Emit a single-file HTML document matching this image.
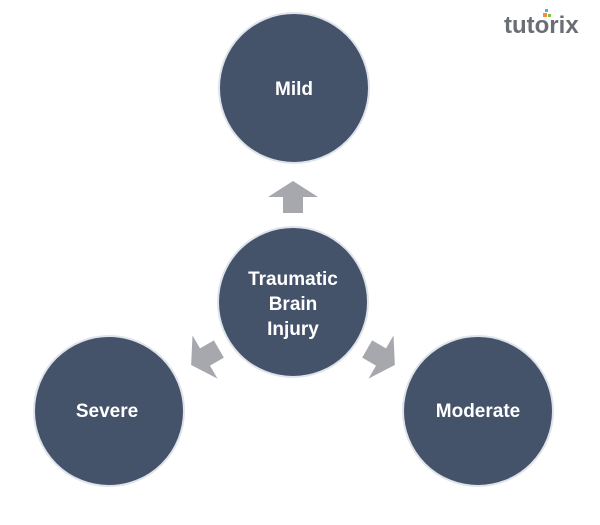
<!DOCTYPE html>
<html><head><style>
body{margin:0;width:600px;height:520px;background:#fff;overflow:hidden;font-family:"Liberation Sans",sans-serif}
</style></head><body>
<svg width="600" height="520" xmlns="http://www.w3.org/2000/svg">
<defs>
<g id="arr"><polygon points="-10,16 10,16 10,0 25,0 0,-16 -25,0 -10,0" fill="#a6a8ae"/></g>
</defs>
<g fill="#44526a" stroke="#dfe3ea" stroke-width="2">
<circle cx="294" cy="88" r="75"/>
<circle cx="293" cy="302" r="75"/>
<circle cx="109" cy="411" r="75"/>
<circle cx="478" cy="411" r="75"/>
</g>
<use href="#arr" transform="translate(293,197)"/>
<use href="#arr" transform="translate(205,357) rotate(-120)"/>
<use href="#arr" transform="translate(381,357) rotate(120)"/>
<g fill="#fff" font-weight="bold" font-size="19" text-anchor="middle">
<text x="294" y="95">Mild</text>
<text x="293" y="285">Traumatic</text>
<text x="293" y="310">Brain</text>
<text x="293" y="335">Injury</text>
<text x="107" y="417">Severe</text>
<text x="478" y="417">Moderate</text>
</g>
<text x="504" y="33" font-size="24" font-weight="bold" fill="#6b6e74">tutorix</text>
<rect x="545" y="9" width="3" height="3" fill="#4ab0e0"/>
<rect x="543" y="13" width="4" height="4" fill="#f09040"/>
<rect x="548" y="14" width="3" height="3" fill="#80c050"/>
</svg>
</body></html>
